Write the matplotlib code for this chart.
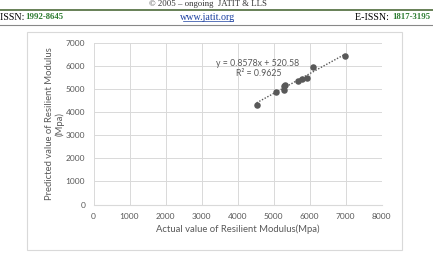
import matplotlib.pyplot as plt
from matplotlib.patches import Rectangle
from matplotlib.lines import Line2D

# values
actual = [4530, 5060, 5290, 5290, 5320, 5680, 5780, 5920, 6100, 6990]
predicted = [4330, 4870, 4970, 5150, 5200, 5350, 5420, 5470, 5950, 6450]
slope, intercept = 0.8578, 520.58
eq_text = "y = 0.8578x + 520.58"
r2_text = "R² = 0.9625"
x_ticks = [0, 1000, 2000, 3000, 4000, 5000, 6000, 7000, 8000]
y_ticks = [0, 1000, 2000, 3000, 4000, 5000, 6000, 7000]

fig = plt.figure(figsize=(4.33, 2.54), dpi=100)
W, H = 433, 254

# journal page header
serif = "Liberation Serif"
fig.text(208 / W, 1 - 4 / H, "© 2005 – ongoing  JATIT & LLS", ha="center", va="center",
         fontsize=6.3, family=serif, color="#333333")
fig.add_artist(Line2D([0, 1], [1 - 10 / H, 1 - 10 / H], color="#4d6b3a", lw=1.2))
fig.text(0, 1 - 17 / H, "ISSN: ", ha="left", va="center", fontsize=7.2, family=serif)
fig.text(25 / W, 1 - 17 / H, "1992-8645", ha="left", va="center", fontsize=6.3,
         family=serif, color="#2e7d32", weight="bold")
fig.text(208 / W, 1 - 17 / H, "www.jatit.org", ha="center", va="center", fontsize=7.2,
         family=serif, color="#1a3fa0")
fig.add_artist(Line2D([183 / W, 233 / W], [1 - 21 / H, 1 - 21 / H], color="#1a3fa0", lw=0.5))
fig.text(391 / W, 1 - 17 / H, "E-ISSN: ", ha="right", va="center", fontsize=7.2, family=serif)
fig.text(392 / W, 1 - 17 / H, "1817-3195", ha="left", va="center", fontsize=6.3,
         family=serif, color="#2e7d32", weight="bold")
fig.add_artist(Line2D([0, 1], [1 - 24.5 / H, 1 - 24.5 / H], color="#888888", lw=0.8))

# chart border
fig.add_artist(Rectangle((27 / W, 4 / H), 375 / W, 218 / H, transform=fig.transFigure,
                         fill=False, edgecolor="#d9d9d9", lw=0.8))

ax = fig.add_axes([93.5 / W, 49.5 / H, 288 / W, 161.5 / H])
ax.scatter(actual, predicted, s=22, color="#595959", zorder=3, linewidths=0)
xs = [min(actual), max(actual)]
ax.plot(xs, [slope * v + intercept for v in xs], linestyle=(0, (1, 1.2)),
        color="#595959", lw=1.0, zorder=2)

ax.set_xlim(0, 8000)
ax.set_ylim(0, 7000)
ax.set_xticks(x_ticks)
ax.set_yticks(y_ticks)
ax.grid(True, color="#d9d9d9", lw=0.7)
ax.set_axisbelow(True)
for s in ["top", "right", "left"]:
    ax.spines[s].set_visible(False)
ax.spines["bottom"].set_color("#d9d9d9")
ax.tick_params(length=0, labelsize=6, colors="#595959", pad=6)
for lab in ax.get_xticklabels() + ax.get_yticklabels():
    lab.set_family("Lato")

ax.set_xlabel("Actual value of Resilient Modulus(Mpa)", fontsize=6.8, color="#595959",
              family="Lato", labelpad=3)
ax.set_ylabel("Predicted value of Resilient Modulus\n(Mpa)", fontsize=6.8, color="#595959",
              family="Lato", labelpad=1, linespacing=1.15)

fig.text(258 / W, 1 - 63 / H, eq_text, ha="center", va="center", fontsize=6.3,
         color="#595959", family="Lato")
fig.text(259 / W, 1 - 74 / H, r2_text, ha="center", va="center", fontsize=6.3,
         color="#595959", family="Lato")

fig.savefig("out.png", dpi=100)
